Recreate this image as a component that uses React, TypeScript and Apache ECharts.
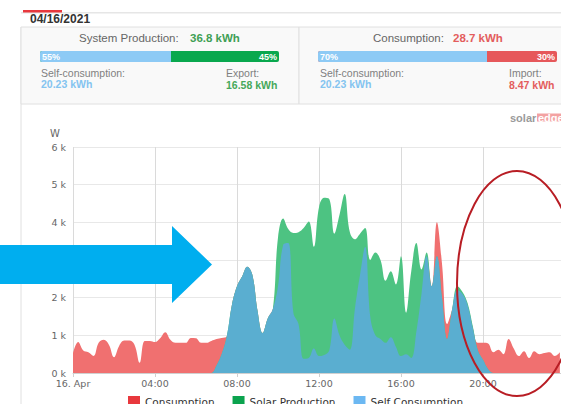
import React, { useEffect, useRef } from "react";
import * as echarts from "echarts";

// 15-minute time slots for 16 April 2021 (00:00 … 24:00)
const timeSlots: string[] = [];
for (let i = 0; i <= 96; i++) {
  const h = Math.floor(i / 4);
  const m = (i % 4) * 15;
  timeSlots.push(`${String(h).padStart(2, "0")}:${String(m).padStart(2, "0")}`);
}

const seriesNames = ["Consumption", "Solar Production", "Self Consumption"];

// Power in W, one value every 15 minutes
const consumption = [
  530, 820, 600, 550, 450, 800, 880, 750, 420, 720,
  860, 860, 750, 270, 850, 850, 820, 920, 1080, 880,
  800, 800, 800, 930, 920, 800, 800, 850, 900, 930,
  970, 1800, 2300, 2560, 2820, 2600, 1650, 1060, 1450, 1700,
  2300, 3400, 3450, 1600, 1300, 380, 400, 650, 450, 480,
  600, 1450, 1000, 750, 620, 1700, 2600, 3350, 1500, 1000,
  900, 800, 950, 700, 450, 500, 400, 1100, 2100, 3100,
  2300, 4000, 2900, 1300, 1700, 2200, 2100, 1800, 1200, 800,
  800, 780, 550, 620, 500, 900, 650, 450, 580, 400,
  580, 500, 530, 550, 450, 550,
];

const solarProduction = [
  0, 0, 0, 0, 0, 0, 0, 0, 0, 0,
  0, 0, 0, 0, 0, 0, 0, 0, 0, 0,
  0, 0, 0, 0, 0, 0, 0, 0, 200, 500,
  970, 1800, 2300, 2560, 2820, 2600, 1650, 1060, 1450, 1700,
  3600, 4100, 3820, 3720, 3740, 3850, 4020, 3350, 4400, 4650,
  4620, 3700, 4200, 4750, 3750, 3550, 3700, 3850, 3000, 3200,
  3000, 2450, 2700, 2350, 3100, 1600, 2700, 3450, 2750, 3200,
  2300, 3100, 2000, 900, 1700, 2300, 2150, 1850, 1250, 600,
  350, 100, 0, 0, 0, 0, 0, 0, 0, 0,
  0, 0, 0, 0, 0, 0,
];

const selfConsumption = [
  0, 0, 0, 0, 0, 0, 0, 0, 0, 0,
  0, 0, 0, 0, 0, 0, 0, 0, 0, 0,
  0, 0, 0, 0, 0, 0, 0, 0, 200, 500,
  970, 1800, 2300, 2560, 2820, 2600, 1650, 1060, 1450, 1700,
  2300, 3400, 3450, 1600, 1300, 380, 400, 650, 450, 480,
  600, 1450, 1000, 750, 620, 1700, 2600, 3350, 1500, 1000,
  900, 800, 950, 700, 450, 500, 400, 1100, 2100, 3100,
  2300, 3100, 2000, 900, 1700, 2200, 2100, 1800, 1200, 600,
  350, 100, 0, 0, 0, 0, 0, 0, 0, 0,
  0, 0, 0, 0, 0, 0,
];

const legendColors = ["#e8383d", "#0ba34e", "#6cb8f2"];
const fillColors = ["#f07070", "#4dc382", "#5aaed0"];

const dateLabel = "04/16/2021";
const summary = {
  production: "36.8 kWh",
  consumption: "28.7 kWh",
  selfConsumption: "20.23 kWh",
  exported: "16.58 kWh",
  imported: "8.47 kWh",
  prodSelfPct: "55%",
  prodExportPct: "45%",
  consSelfPct: "70%",
  consImportPct: "30%",
};

const HF = '"Liberation Sans", Arial, sans-serif';
const CF = '"DejaVu Sans", sans-serif';

export default function App() {
  const ref = useRef<HTMLDivElement>(null);

  useEffect(() => {
    if (!ref.current) return;
    const chart = echarts.init(ref.current, null, { renderer: "svg" });

    const showIdx = (index: number) => index % 16 === 0 && index < 96;

    const txt = (x: number, y: number, text: string, font: string, fill: string, align = "left") => ({
      type: "text",
      x,
      y,
      z: 50,
      style: { text, font, fill, align, verticalAlign: "middle" },
    });

    const graphics: any[] = [
      // header rule and active tab
      { type: "rect", z: 40, shape: { x: 21, y: 12, width: 560, height: 1.5 }, style: { fill: "#e6e6e6" } },
      { type: "rect", z: 41, shape: { x: 23, y: 10, width: 39, height: 2.5 }, style: { fill: "#e8383d" } },
      txt(30, 18.5, dateLabel, `bold 12px ${HF}`, "#333333"),
      // outer left border
      { type: "line", z: 40, shape: { x1: 21, y1: 27, x2: 21, y2: 404 }, style: { stroke: "#e0e0e0", lineWidth: 1 } },
      // panels
      { type: "rect", z: 40, shape: { x: 21, y: 27, width: 278, height: 77 }, style: { fill: "#f9f9f9", stroke: "#e0e0e0", lineWidth: 1 } },
      { type: "rect", z: 40, shape: { x: 299, y: 27, width: 280, height: 77 }, style: { fill: "#f9f9f9", stroke: "#e0e0e0", lineWidth: 1 } },
      // panel 1
      txt(79, 37.5, "System Production:", `11.5px ${HF}`, "#666666"),
      txt(190, 37.5, summary.production, `bold 11.5px ${HF}`, "#3f9f55"),
      { type: "rect", z: 50, shape: { x: 40, y: 51, width: 239, height: 11, r: 2 }, style: { fill: "#09a84e" } },
      { type: "rect", z: 51, shape: { x: 40, y: 51, width: 131, height: 11, r: [2, 0, 0, 2] }, style: { fill: "#8dcaf5" } },
      { ...txt(42, 57, summary.prodSelfPct, `bold 9px ${HF}`, "#ffffff"), z: 52 },
      { ...txt(277, 57, summary.prodExportPct, `bold 9px ${HF}`, "#ffffff", "right"), z: 52 },
      txt(41, 73, "Self-consumption:", `10.5px ${HF}`, "#808080"),
      txt(41, 84, summary.selfConsumption, `bold 10.5px ${HF}`, "#84c4f0"),
      txt(226, 73, "Export:", `10.5px ${HF}`, "#808080"),
      txt(226, 84.5, summary.exported, `bold 10.5px ${HF}`, "#46a85a"),
      // panel 2
      txt(373, 37.5, "Consumption:", `11.5px ${HF}`, "#666666"),
      txt(453, 37.5, summary.consumption, `bold 11.5px ${HF}`, "#e35d5d"),
      { type: "rect", z: 50, shape: { x: 318, y: 51, width: 239, height: 11, r: 2 }, style: { fill: "#e6585b" } },
      { type: "rect", z: 51, shape: { x: 318, y: 51, width: 169, height: 11, r: [2, 0, 0, 2] }, style: { fill: "#8dcaf5" } },
      { ...txt(320, 57, summary.consSelfPct, `bold 9px ${HF}`, "#ffffff"), z: 52 },
      { ...txt(555, 57, summary.consImportPct, `bold 9px ${HF}`, "#ffffff", "right"), z: 52 },
      txt(320, 73, "Self-consumption:", `10.5px ${HF}`, "#808080"),
      txt(320, 84, summary.selfConsumption, `bold 10.5px ${HF}`, "#84c4f0"),
      txt(509, 73, "Import:", `10.5px ${HF}`, "#808080"),
      txt(509, 84.5, summary.imported, `bold 10.5px ${HF}`, "#e35d5d"),
      // logo
      txt(510, 117.5, "solar", `bold 11px ${HF}`, "#9a9a9a"),
      { type: "rect", z: 50, shape: { x: 537, y: 113.5, width: 30, height: 8 }, style: { fill: "#f3a2a2" } },
      { ...txt(538, 117.5, "edge", `bold 11px ${HF}`, "#ffffff"), z: 51 },
      // axis unit
      txt(50, 133, "W", `10px ${CF}`, "#666666"),
      // annotation arrow
      {
        type: "polygon",
        z: 100,
        shape: {
          points: [
            [0, 245], [172, 245], [172, 226], [212, 264.5], [172, 303], [172, 284], [0, 284],
          ],
        },
        style: { fill: "#00aeef" },
      },
      // annotation ellipse
      {
        type: "ellipse",
        z: 100,
        shape: { cx: 517, cy: 283.5, rx: 60, ry: 112.5 },
        style: { fill: "none", stroke: "#b81d24", lineWidth: 2 },
      },
    ];

    const values = [consumption, solarProduction, selfConsumption];

    chart.setOption({
      animation: false,
      backgroundColor: "#ffffff",
      grid: { left: 73, top: 147, width: 492, height: 226, containLabel: false },
      legend: {
        left: 128,
        top: 396,
        padding: 0,
        itemWidth: 12,
        itemHeight: 11,
        itemGap: 18,
        icon: "rect",
        textStyle: { fontSize: 10.5, color: "#333333", fontFamily: CF },
        data: seriesNames.map((n, i) => ({ name: n, itemStyle: { color: legendColors[i] } })),
      },
      xAxis: {
        type: "category",
        data: timeSlots,
        boundaryGap: false,
        axisLine: { lineStyle: { color: "#d0d0d0" } },
        axisTick: { show: true, interval: (i: number) => showIdx(i), length: 4, lineStyle: { color: "#d0d0d0" } },
        axisLabel: {
          interval: (i: number) => showIdx(i),
          formatter: (v: string, i: number) => (i === 0 ? "16. Apr" : v),
          color: "#666666",
          fontSize: 9.5,
          fontFamily: CF,
          margin: 5,
        },
        splitLine: { show: true, interval: (i: number) => showIdx(i), lineStyle: { color: "#dadada" } },
      },
      yAxis: {
        type: "value",
        min: 0,
        max: 6000,
        interval: 1000,
        axisLine: { show: false },
        axisTick: { show: false },
        axisLabel: {
          formatter: (v: number) => `${v / 1000} k`,
          color: "#666666",
          fontSize: 9.5,
          fontFamily: CF,
          margin: 7,
        },
        splitLine: { lineStyle: { color: "#e8e8e8" } },
      },
      series: seriesNames.map((name, i) => ({
        name,
        type: "line",
        data: values[i],
        smooth: 0.4,
        showSymbol: false,
        symbol: "none",
        lineStyle: { width: 0 },
        itemStyle: { color: legendColors[i] },
        areaStyle: { color: fillColors[i], opacity: 1 },
        z: 2 + i,
      })),
      graphic: graphics,
    });

    return () => chart.dispose();
  }, []);

  return (
    <div style={{ position: "fixed", left: 0, top: 0, width: 561, height: 404, overflow: "hidden", background: "#fff" }}>
      <div ref={ref} style={{ width: 600, height: 425 }} />
    </div>
  );
}
